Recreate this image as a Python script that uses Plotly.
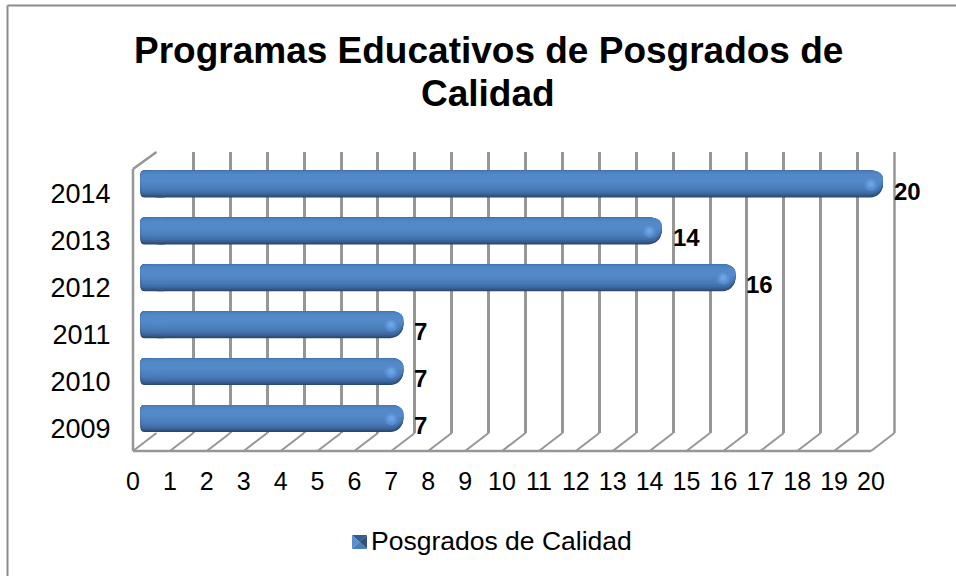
import plotly.graph_objects as go

YEARS = [2009, 2010, 2011, 2012, 2013, 2014]
VALUES = [7, 7, 7, 16, 14, 20]
SERIES_NAME = "Posgrados de Calidad"
TITLE_LINES = ["Programas Educativos de Posgrados de", "Calidad"]
XTICKS = list(range(0, 21))

W, H = 956, 576
def px(x): return x / W
def py(y): return 1 - y / H

BACK_L, BACK_R, BACK_T, BACK_B = 156.5, 894.5, 152, 433
FRONT_L, FRONT_R, FRONT_B = 133, 871, 451
STEP = (BACK_R - BACK_L) / 20
WALL = "#969696"

# nested bands, (top, bottom) as fractions of the capsule height, dark rim to light core
BANDS = [
    (0.00, 1.00, "#2b466b"), (0.00, 0.97, "#30507c"), (0.00, 0.93, "#365b8c"),
    (0.00, 0.89, "#3b659a"), (0.00, 0.84, "#406ea7"), (0.00, 0.78, "#4576b1"),
    (0.01, 0.71, "#497cb8"), (0.04, 0.63, "#4c81be"), (0.08, 0.54, "#5085c4"),
    (0.14, 0.45, "#5389c9"),
]
BAR_BAND = 0.575
STUB_END, STUB_START = -0.12, 0.6

fig = go.Figure()

fig.add_trace(go.Scatter(x=[0], y=[0], mode="markers", marker=dict(opacity=0), showlegend=False,
                         hoverinfo="skip", xaxis="x", yaxis="y"))
for top, bot, col in BANDS:
    band = dict(y=YEARS, orientation="h", offset=BAR_BAND * (0.5 - bot), width=BAR_BAND * (bot - top),
                showlegend=False, hoverinfo="skip", xaxis="x2", yaxis="y2")
    # the bar proper
    fig.add_trace(go.Bar(x=VALUES, base=0,
                         marker=dict(color=col, line=dict(width=0), cornerradius=13.5 * (bot - top)), **band))
    # squarer left end, laid over the bar's own rounded base
    fig.add_trace(go.Bar(x=[STUB_END - STUB_START for _ in VALUES], base=STUB_START,
                         marker=dict(color=col, line=dict(width=0), cornerradius=4), **band))
# soft highlight near the bar end
for size, col in [(14, "#5589ca"), (11, "#5a90d2"), (8, "#629ada"), (5, "#6ba5e4")]:
    fig.add_trace(go.Scatter(
        x=[v - 0.33 for v in VALUES], y=YEARS, mode="markers", showlegend=False, hoverinfo="skip",
        marker=dict(size=size, color=col, line=dict(width=0)), xaxis="x2", yaxis="y2"))
fig.add_trace(go.Scatter(x=[0], y=[YEARS[0]], mode="markers", marker=dict(opacity=0), showlegend=False,
                         hoverinfo="skip", xaxis="x3", yaxis="y3"))
fig.add_trace(go.Scatter(x=[None], y=[None], mode="markers", name=SERIES_NAME,
                         marker=dict(symbol="square", size=14, color="rgba(0,0,0,0)", line=dict(width=0)),
                         xaxis="x3", yaxis="y3"))

def seg(x0, y0, x1, y1, width=2.5, color=WALL):
    return dict(type="line", xref="paper", yref="paper", x0=px(x0), y0=py(y0), x1=px(x1), y1=py(y1),
                line=dict(color=color, width=width), layer="below")
shapes = [seg(7.5, 5.5, 956, 5.5, 2, "#8c8c8c"), seg(7.5, 5.5, 7.5, 576, 2, "#8c8c8c")]
shapes += [seg(FRONT_L, 169, FRONT_L, FRONT_B), seg(FRONT_L, 169, BACK_L, BACK_T),
           seg(FRONT_L, FRONT_B, FRONT_R, FRONT_B), seg(BACK_R, BACK_T, BACK_R, BACK_B)]
for n in XTICKS:
    shapes.append(seg(FRONT_L + n * STEP, FRONT_B, BACK_L + n * STEP, BACK_B, 2))

# bevelled legend swatch
SW_L, SW_R, SW_T, SW_B = 352, 367, 535, 549
SW_CX, SW_CY = (SW_L + SW_R) / 2, (SW_T + SW_B) / 2
for (a, b, c, d), col in [
    ((SW_L, SW_T, SW_R, SW_T), "#365c8c"), ((SW_L, SW_T, SW_L, SW_B), "#5a8fce"),
    ((SW_R, SW_T, SW_R, SW_B), "#2f5080"), ((SW_L, SW_B, SW_R, SW_B), "#4a7cb8")]:
    shapes.append(dict(type="path", xref="paper", yref="paper",
                       path=f"M {px(a)} {py(b)} L {px(c)} {py(d)} L {px(SW_CX)} {py(SW_CY)} Z",
                       fillcolor=col, line=dict(width=0), layer="below"))

annotations = [dict(x=v, y=y, xref="x2", yref="y2", text=f"<b>{v}</b>", showarrow=False,
                    xanchor="left", xshift=9, yshift=-7,
                    font=dict(family="Liberation Sans", size=24, color="#000"))
               for y, v in zip(YEARS, VALUES)]
for line, yc in zip(TITLE_LINES, [51, 93]):
    annotations.append(dict(x=px(488), y=py(yc), xref="paper", yref="paper", text=f"<b>{line}</b>",
                            showarrow=False, xanchor="center", yanchor="middle",
                            font=dict(family="Liberation Sans", size=37, color="#000")))

fig.update_layout(
    template="none",
    width=W, height=H, margin=dict(l=0, r=0, t=0, b=0, pad=0), paper_bgcolor="#fff", plot_bgcolor="rgba(0,0,0,0)",
    barmode="overlay",
    font=dict(family="Liberation Sans", color="#000"),
    xaxis=dict(domain=[px(BACK_L), px(BACK_R)], range=[0, 20], dtick=1, showgrid=True, gridcolor=WALL, gridwidth=2.5,
               zeroline=False, showticklabels=False, showline=False, ticks="", anchor="y"),
    yaxis=dict(domain=[py(BACK_B), py(BACK_T)], range=[0, 1], showgrid=False, zeroline=False,
               showticklabels=False, showline=False, ticks="", anchor="x"),
    xaxis2=dict(domain=[px(145 - 0.5 * STEP), px(145 + 20 * STEP)], range=[-0.5, 20], showgrid=False, zeroline=False,
                showticklabels=False, ticks="", anchor="y2"),
    yaxis2=dict(domain=[py(441.95), py(160.55)], range=[2008.5, 2014.5], showgrid=False, zeroline=False,
                showticklabels=False, ticks="", anchor="x2"),
    xaxis3=dict(domain=[px(FRONT_L), px(FRONT_R)], range=[0, 20], tickvals=XTICKS, showgrid=False, zeroline=False,
                ticks="outside", ticklen=7, tickcolor="rgba(0,0,0,0)", showline=False,
                tickfont=dict(size=25), anchor="y3"),
    yaxis3=dict(domain=[py(452), py(170.5)], range=[2008.5, 2014.5], tickvals=YEARS, tickformat="d",
                showgrid=False, zeroline=False, showline=False, ticks="outside", ticklen=16,
                tickcolor="rgba(0,0,0,0)", tickfont=dict(size=27), anchor="x3"),
    showlegend=True,
    legend=dict(x=px(331), y=py(516), xanchor="left", yanchor="top", bgcolor="rgba(0,0,0,0)", borderwidth=0,
                itemwidth=30, font=dict(size=26.5)),
    shapes=shapes, annotations=annotations,
)

fig.write_html("out.html", config={"displayModeBar": False},
               post_script="document.body.style.margin='0';document.body.style.overflow='hidden';")
